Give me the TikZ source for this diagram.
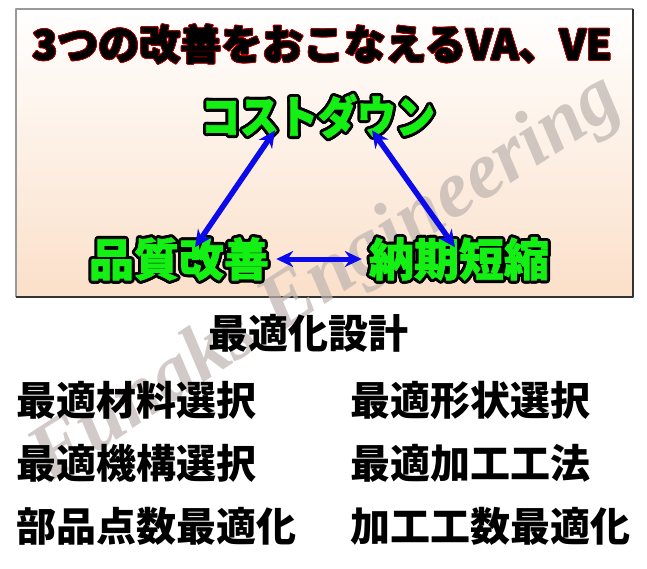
\documentclass[tikz,border=0pt]{standalone}
\usepackage{fontspec}
\usetikzlibrary{arrows.meta}
\newfontfamily\jpfont{Noto Sans CJK JP}
\newfontfamily\jpheavy{Noto Sans CJK JP}[FakeBold=1.6]
\newfontfamily\wmfont{Liberation Serif}
\definecolor{peach}{RGB}{251,224,202}
\definecolor{textgreen}{RGB}{20,240,20}
\definecolor{arrowblue}{RGB}{10,10,235}
\definecolor{wmgray}{RGB}{190,180,176}
\tikzset{
  titlefont/.style={inner sep=0pt, font=\jpheavy\bfseries\fontsize{41}{41}\selectfont},
  costfont/.style={inner sep=1pt, yscale=1.15, font=\jpheavy\bfseries\fontsize{39}{39}\selectfont},
  goal/.style={inner sep=1pt, font=\jpheavy\bfseries\fontsize{45}{45}\selectfont},
  item/.style={inner sep=0pt, anchor=west, font=\jpfont\bfseries\fontsize{40}{40}\selectfont},
  arr/.style={draw=arrowblue, line width=5.5pt, <->}
}
\begin{document}
\begin{tikzpicture}[x=1pt, y=-1pt, line join=round, >={Stealth[length=17pt,width=16pt]}]
\useasboundingbox (0,0) rectangle (647,568);
\foreach \i [evaluate=\i as \p using \i*100/71] in {0,...,71}
  \fill[peach!\p!white] (16,{9+4*\i}) rectangle (633,{13.5+4*\i});
\draw[gray!80, line width=1.5pt] (16,297)--(16,9)--(633,9);
\draw[gray!40!black, line width=2pt] (633,9)--(633,297)--(16,297);
\node[wmgray, opacity=0.7, rotate=33, font=\wmfont\bfseries\itshape\fontsize{80}{80}\selectfont] (wm) at (327,280) {Funaks Engineering};
\foreach \ang in {0,24,...,336}{
  \node[titlefont, red!70!black] (titleo\ang) at ([shift={(\ang:0.8)}]322,44) {3つの改善をおこなえるVA、VE};
  \node[costfont, black] (costo\ang) at ([shift={(\ang:3)}]318,116) {コストダウン};
  \node[goal, black] (qualityo\ang) at ([shift={(\ang:3)}]179,259) {品質改善};
  \node[goal, black] (deliveryo\ang) at ([shift={(\ang:3)}]459,259) {納期短縮};
}
\node[titlefont] (title) at (322,44) {3つの改善をおこなえるVA、VE};
\node[costfont, textgreen] (cost) at (318,116) {コストダウン};
\node[goal, textgreen] (quality) at (179,259) {品質改善};
\node[goal, textgreen] (delivery) at (459,259) {納期短縮};
\draw[arr] ([xshift=-43pt,yshift=9pt]cost.south) -- ([xshift=16pt,yshift=-11pt]quality.north);
\draw[arr] ([xshift=54pt,yshift=9pt]cost.south) -- ([xshift=-4pt,yshift=-11pt]delivery.north);
\draw[arr, line width=5pt] ([xshift=6pt]quality.east) -- ([xshift=-6pt]delivery.west);
\node[item, anchor=center] (design) at (308,333) {最適化設計};
\node[item] (material) at (16,400) {最適材料選択};
\node[item] (shape) at (350,400) {最適形状選択};
\node[item] (mechanism) at (16,463) {最適機構選択};
\node[item] (process) at (350,463) {最適加工工法};
\node[item] (parts) at (16,526) {部品点数最適化};
\node[item] (steps) at (350,526) {加工工数最適化};
\end{tikzpicture}
\end{document}
